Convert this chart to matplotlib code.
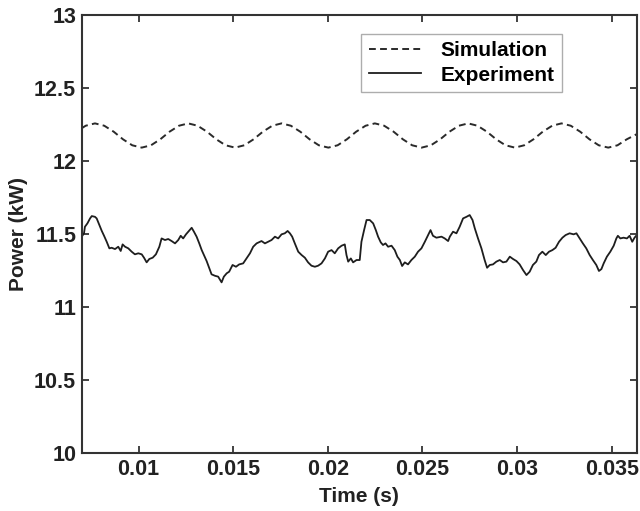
import matplotlib.pyplot as plt

plt.rcParams['font.family'] = ['Liberation Sans', 'DejaVu Sans']

# simulated power (dashed, periodic)
sim_t = [0.00700, 0.00721, 0.00770, 0.00819, 0.00869, 0.00918, 0.00967, 0.01017, 0.01066,
         0.01115, 0.01164, 0.01214, 0.01263, 0.01312, 0.01362, 0.01411, 0.01460, 0.01510,
         0.01559, 0.01608, 0.01657, 0.01707, 0.01756, 0.01805, 0.01855, 0.01904, 0.01953,
         0.02003, 0.02052, 0.02101, 0.02150, 0.02200, 0.02249, 0.02298, 0.02348, 0.02397,
         0.02446, 0.02496, 0.02545, 0.02594, 0.02643, 0.02693, 0.02742, 0.02791, 0.02841,
         0.02890, 0.02939, 0.02989, 0.03038, 0.03087, 0.03136, 0.03186, 0.03235, 0.03284,
         0.03334, 0.03383, 0.03432, 0.03482, 0.03531, 0.03580, 0.03634]
sim_p = [12.225, 12.242, 12.258, 12.242, 12.201, 12.149, 12.108, 12.092, 12.108, 12.149,
         12.201, 12.242, 12.258, 12.242, 12.201, 12.149, 12.108, 12.092, 12.108, 12.149,
         12.201, 12.242, 12.258, 12.242, 12.201, 12.149, 12.108, 12.092, 12.108, 12.149,
         12.201, 12.242, 12.258, 12.242, 12.201, 12.149, 12.108, 12.092, 12.108, 12.149,
         12.201, 12.242, 12.258, 12.242, 12.201, 12.149, 12.108, 12.092, 12.108, 12.149,
         12.201, 12.242, 12.258, 12.242, 12.201, 12.149, 12.108, 12.092, 12.108, 12.149,
         12.185]

# measured power (solid)
exp_t = [0.00700, 0.00712, 0.00717, 0.00730, 0.00744, 0.00753, 0.00770, 0.00779, 0.00793,
         0.00806, 0.00818, 0.00832, 0.00846, 0.00858, 0.00876, 0.00893, 0.00906, 0.00916,
         0.00929, 0.00946, 0.00964, 0.00981, 0.00999, 0.01017, 0.01029, 0.01043, 0.01057,
         0.01075, 0.01092, 0.01110, 0.01122, 0.01140, 0.01157, 0.01175, 0.01193, 0.01210,
         0.01223, 0.01236, 0.01251, 0.01263, 0.01281, 0.01293, 0.01307, 0.01321, 0.01334,
         0.01346, 0.01360, 0.01374, 0.01386, 0.01404, 0.01421, 0.01439, 0.01451, 0.01466,
         0.01479, 0.01497, 0.01515, 0.01532, 0.01553, 0.01571, 0.01589, 0.01606, 0.01624,
         0.01650,
         0.01668, 0.01685, 0.01703, 0.01721, 0.01738, 0.01756, 0.01773, 0.01788, 0.01800,
         0.01812, 0.01826, 0.01844, 0.01862, 0.01879, 0.01896, 0.01914, 0.01932, 0.01949,
         0.01967, 0.01985, 0.02002, 0.02020, 0.02037, 0.02055, 0.02073, 0.02090, 0.02099,
         0.02108, 0.02122, 0.02134, 0.02152, 0.02169, 0.02178, 0.02192, 0.02205, 0.02222,
         0.02240, 0.02254, 0.02266, 0.02280, 0.02292, 0.02305, 0.02319, 0.02337, 0.02354,
         0.02368, 0.02381, 0.02393, 0.02407, 0.02424, 0.02442, 0.02460, 0.02477, 0.02495,
         0.02513, 0.02530, 0.02543, 0.02556, 0.02574, 0.02601, 0.02618, 0.02636,
         0.02645, 0.02662, 0.02680, 0.02697, 0.02715, 0.02733, 0.02750, 0.02765, 0.02777,
         0.02794, 0.02812, 0.02829, 0.02842, 0.02856, 0.02873, 0.02891, 0.02909, 0.02926,
         0.02944, 0.02962, 0.02979, 0.02997, 0.03014, 0.03032, 0.03050, 0.03067, 0.03084,
         0.03102, 0.03116, 0.03134, 0.03152, 0.03169, 0.03187, 0.03204, 0.03222, 0.03240,
         0.03257, 0.03278, 0.03299, 0.03314, 0.03331, 0.03348, 0.03366, 0.03384, 0.03401,
         0.03419, 0.03433, 0.03446, 0.03458, 0.03475, 0.03493, 0.03511, 0.03525, 0.03533,
         0.03546, 0.03563, 0.03581, 0.03595, 0.03609, 0.03621, 0.03633]
exp_p = [11.482, 11.505, 11.550, 11.573, 11.607, 11.623, 11.618, 11.607, 11.562,
         11.521, 11.488, 11.447, 11.402, 11.406, 11.397, 11.413, 11.384, 11.429,
         11.413, 11.402, 11.379, 11.361, 11.368, 11.361, 11.338, 11.306, 11.329,
         11.338, 11.361, 11.413, 11.470, 11.459, 11.466, 11.452, 11.436, 11.459,
         11.488, 11.470, 11.498, 11.516, 11.543, 11.516, 11.482, 11.436, 11.390,
         11.356, 11.315, 11.265, 11.224, 11.214, 11.208, 11.169, 11.208, 11.231,
         11.242, 11.288, 11.276, 11.292, 11.299, 11.333, 11.368, 11.413, 11.436,
         11.452,
         11.436, 11.447, 11.459, 11.482, 11.470, 11.498, 11.505, 11.521, 11.505,
         11.482, 11.436, 11.379, 11.356, 11.338, 11.306, 11.283, 11.276, 11.283,
         11.299, 11.333, 11.379, 11.390, 11.368, 11.402, 11.420, 11.429, 11.356,
         11.311, 11.333, 11.306, 11.322, 11.322, 11.447, 11.527, 11.596, 11.596,
         11.573, 11.527, 11.482, 11.443, 11.425, 11.436, 11.413, 11.420, 11.390,
         11.345, 11.322, 11.281, 11.306, 11.292, 11.322, 11.345, 11.379, 11.402,
         11.447, 11.493, 11.527, 11.488, 11.475, 11.482, 11.470, 11.452,
         11.482, 11.516, 11.505, 11.550, 11.607, 11.618, 11.630, 11.596, 11.539,
         11.470, 11.402, 11.322, 11.269, 11.288, 11.292, 11.311, 11.322, 11.306,
         11.311, 11.345, 11.329, 11.315, 11.292, 11.253, 11.219, 11.242, 11.288,
         11.311, 11.356, 11.379, 11.356, 11.379, 11.390, 11.406, 11.447, 11.475,
         11.493, 11.505, 11.498, 11.505, 11.470, 11.436, 11.402, 11.356, 11.322,
         11.288, 11.247, 11.260, 11.299, 11.345, 11.379, 11.420, 11.470, 11.488,
         11.470, 11.475, 11.470, 11.488, 11.447, 11.475, 11.493]

x_ticks = [0.01, 0.015, 0.02, 0.025, 0.03, 0.035]
y_ticks = [10, 10.5, 11, 11.5, 12, 12.5, 13]

fig = plt.figure(figsize=(6.4, 5.11), dpi=100)
ax = fig.add_axes([0.1277, 0.1135, 0.867, 0.857])

ax.plot(sim_t, sim_p, color='#2a2a2a', lw=1.4, linestyle=(0, (3.5, 2.2)), label='Simulation')
ax.plot(exp_t, exp_p, color='#1e1e1e', lw=1.3, label='Experiment')

ax.set_xlim(0.00700, 0.03632)
ax.set_ylim(10, 13)
ax.set_xticks(x_ticks)
ax.set_xticklabels(['0.01', '0.015', '0.02', '0.025', '0.03', '0.035'])
ax.set_yticks(y_ticks)
ax.set_yticklabels(['10', '10.5', '11', '11.5', '12', '12.5', '13'])
ax.tick_params(direction='in', length=5, width=1.2, top=True, right=True,
               labelsize=15.5, colors='#222222')
ax.tick_params(axis='x', pad=4)
ax.tick_params(axis='y', pad=4)
for lab in ax.get_xticklabels() + ax.get_yticklabels():
    lab.set_fontweight('bold')
for s in ax.spines.values():
    s.set_linewidth(1.5)
    s.set_color('#333333')

ax.set_xlabel('Time (s)', fontsize=15, fontweight='bold', color='#222222', labelpad=5)
ax.set_ylabel('Power (kW)', fontsize=15, fontweight='bold', color='#222222', labelpad=4)

leg = ax.legend(loc='upper right', bbox_to_anchor=(0.8654, 0.9566), borderaxespad=0,
                fancybox=False, edgecolor='#999999', handlelength=2.5, handletextpad=0.95,
                prop={'size': 15, 'weight': 'bold'}, borderpad=0.35, labelspacing=0.25)
leg.get_frame().set_linewidth(1.0)

fig.savefig('out.png', dpi=100)
